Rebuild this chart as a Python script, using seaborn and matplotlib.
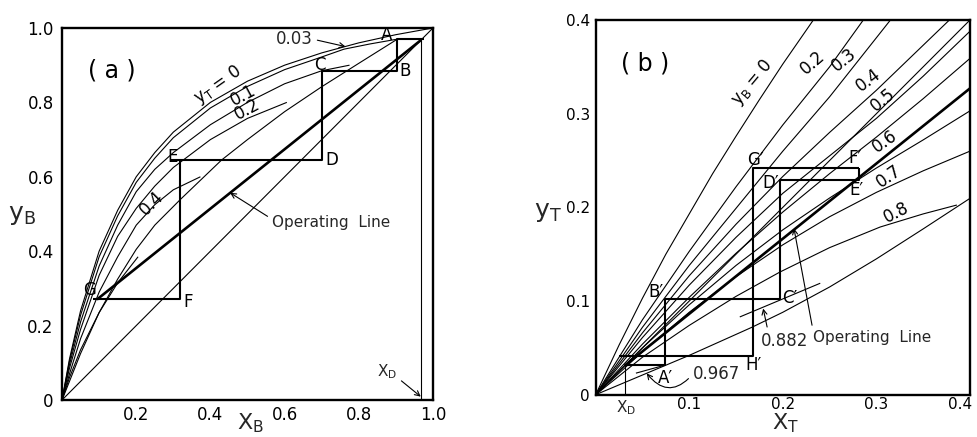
import matplotlib
matplotlib.use("Agg")
import matplotlib.pyplot as plt
from matplotlib.transforms import ScaledTranslation
import pandas as pd
import seaborn as sns

# ---------------- (a) benzene: y_B against x_B, one curve per y_T ----------------
A_YT0_X = [0, 0.02, 0.05, 0.1, 0.15, 0.2, 0.25, 0.3, 0.4, 0.5, 0.6, 0.7, 0.8, 0.9, 1.0]
A_YT0_Y = [0, 0.11, 0.24, 0.40, 0.51, 0.60, 0.665, 0.72, 0.80, 0.857, 0.90, 0.933, 0.96, 0.982, 1.0]

A_YT003_X = [0, 0.02, 0.05, 0.1, 0.15, 0.2, 0.25, 0.3, 0.4, 0.5, 0.6, 0.7, 0.76, 0.83, 0.904]
A_YT003_Y = [0, 0.104, 0.228, 0.385, 0.495, 0.585, 0.65, 0.705, 0.785, 0.843, 0.888, 0.922, 0.943, 0.957, 0.970]

A_YT01_X = [0, 0.02, 0.05, 0.1, 0.15, 0.2, 0.25, 0.3, 0.4, 0.5, 0.6, 0.7, 0.775]
A_YT01_Y = [0, 0.095, 0.21, 0.36, 0.47, 0.56, 0.62, 0.665, 0.74, 0.80, 0.85, 0.885, 0.90]

A_YT02_X = [0, 0.02, 0.05, 0.1, 0.15, 0.2, 0.25, 0.3, 0.4, 0.5, 0.606]
A_YT02_Y = [0, 0.085, 0.19, 0.335, 0.44, 0.515, 0.575, 0.625, 0.70, 0.757, 0.80]

A_YT04_X = [0, 0.02, 0.05, 0.1, 0.15, 0.2, 0.25, 0.3, 0.373]
A_YT04_Y = [0, 0.07, 0.165, 0.29, 0.385, 0.47, 0.525, 0.565, 0.60]

A_YT06_X = [0, 0.02, 0.05, 0.1, 0.15, 0.205]
A_YT06_Y = [0, 0.06, 0.135, 0.235, 0.315, 0.385]

A_LONG_X = [0, 0.05, 0.1, 0.15, 0.2, 0.25, 0.32, 0.43, 0.5, 0.6, 0.7, 0.8, 0.904]
A_LONG_Y = [0, 0.125, 0.235, 0.325, 0.405, 0.47, 0.54, 0.645, 0.70, 0.775, 0.842, 0.905, 0.970]

A_DIAG_X = [0.0, 1.0]
A_DIAG_Y = [0.0, 1.0]
A_OP_X = [0.094, 0.967]
A_OP_Y = [0.270, 0.967]
A_XD_X = [0.967, 0.967]
A_XD_Y = [0.0, 0.970]

A_STEP1_X = [0.975, 0.904, 0.904, 0.700, 0.700, 0.291]
A_STEP1_Y = [0.970, 0.970, 0.884, 0.884, 0.644, 0.644]
A_STEP2_X = [0.319, 0.319, 0.083]
A_STEP2_Y = [0.644, 0.2715, 0.2715]

A_XTICKS = [0.2, 0.4, 0.6, 0.8, 1.0]
A_XTICK_LABELS = ["0.2", "0.4", "0.6", "0.8", "1.0"]
A_YTICKS = [0.0, 0.2, 0.4, 0.6, 0.8, 1.0]
A_YTICK_LABELS = ["0", "0.2", "0.4", "0.6", "0.8", "1.0"]

# ---------------- (b) toluene: y_T against x_T, one curve per y_B ----------------
B_YB0_X = [0, 0.025, 0.05, 0.075, 0.1, 0.125, 0.15, 0.175, 0.2, 0.2326]
B_YB0_Y = [0, 0.053, 0.103, 0.150, 0.193, 0.236, 0.276, 0.315, 0.353, 0.40]

B_YB02_X = [0, 0.05, 0.1, 0.15, 0.2, 0.25, 0.286]
B_YB02_Y = [0, 0.08, 0.153, 0.222, 0.288, 0.350, 0.40]

B_YB03_X = [0, 0.05, 0.1, 0.15, 0.2, 0.25, 0.315]
B_YB03_Y = [0, 0.072, 0.138, 0.199, 0.26, 0.318, 0.40]

B_YB04_X = [0, 0.05, 0.1, 0.15, 0.2, 0.25, 0.3, 0.378]
B_YB04_Y = [0, 0.066, 0.127, 0.182, 0.233, 0.28, 0.325, 0.40]

B_YB05_X = [0, 0.05, 0.1, 0.15, 0.2, 0.25, 0.3, 0.35, 0.4]
B_YB05_Y = [0, 0.061, 0.117, 0.168, 0.215, 0.255, 0.295, 0.34, 0.388]

B_YB06_X = [0, 0.05, 0.1, 0.15, 0.2, 0.25, 0.3, 0.35, 0.4]
B_YB06_Y = [0, 0.054, 0.104, 0.151, 0.195, 0.236, 0.275, 0.316, 0.359]

B_YB07_X = [0, 0.05, 0.1, 0.15, 0.2, 0.25, 0.3, 0.35, 0.4]
B_YB07_Y = [0, 0.05, 0.096, 0.138, 0.176, 0.21, 0.242, 0.272, 0.303]

B_YB075_X = [0, 0.05, 0.1, 0.15, 0.2, 0.25, 0.3, 0.35, 0.4]
B_YB075_Y = [0, 0.046, 0.088, 0.126, 0.16, 0.19, 0.216, 0.239, 0.26]

B_YB08_X = [0, 0.05, 0.1, 0.15, 0.197, 0.25, 0.304, 0.35, 0.386]
B_YB08_Y = [0, 0.04, 0.074, 0.105, 0.131, 0.157, 0.179, 0.193, 0.2025]

B_YB09_X = [0, 0.1, 0.167, 0.2, 0.25, 0.3, 0.35, 0.4]
B_YB09_Y = [0, 0.042, 0.072, 0.088, 0.115, 0.145, 0.177, 0.2096]

B_YB0882_X = [0.154, 0.24]
B_YB0882_Y = [0.083, 0.119]
B_YB0967_X = [0.043, 0.072]
B_YB0967_Y = [0.023, 0.031]

B_DIAG_X = [0.0, 0.4]
B_DIAG_Y = [0.0, 0.4]
B_OP_X = [0.031, 0.4]
B_OP_Y = [0.031, 0.327]
B_XD_X = [0.0313, 0.0313]
B_XD_Y = [0.0, 0.0317]

B_STEP1_X = [0.0313, 0.0741, 0.0741, 0.197, 0.197, 0.2817, 0.2817]
B_STEP1_Y = [0.0317, 0.0317, 0.1018, 0.1018, 0.2295, 0.2295, 0.2416]
B_STEP2_X = [0.0253, 0.1685, 0.1685, 0.2817]
B_STEP2_Y = [0.0416, 0.0416, 0.2416, 0.2416]

B_XTICKS = [0.1, 0.2, 0.3, 0.4]
B_XTICK_LABELS = ["0.1", "0.2", "0.3", "0.4"]
B_YTICKS = [0.0, 0.1, 0.2, 0.3, 0.4]
B_YTICK_LABELS = ["0", "0.1", "0.2", "0.3", "0.4"]

sns.set_theme(style="white")
plt.rcParams["font.family"] = ["DejaVu Sans"]
plt.rcParams["mathtext.default"] = "regular"

fig = plt.figure(figsize=(9.77, 4.37), dpi=100)
fig.patch.set_facecolor("white")
ax_a = fig.add_axes([0.0635, 0.0847, 0.3797, 0.8513])
ax_b = fig.add_axes([0.6097, 0.0968, 0.3831, 0.8574])


def trace(ax, xs, ys, lw=0.8):
    frame = pd.DataFrame({"x": xs, "y": ys})
    sns.lineplot(data=frame, x="x", y="y", ax=ax, sort=False, estimator=None,
                 color="black", linewidth=lw, solid_joinstyle="round",
                 solid_capstyle="butt")


def frame_axes(ax, lim, xt, xtl, yt, ytl, xpad, ypad, size):
    ax.set_xlim(0, lim)
    ax.set_ylim(0, lim)
    ax.set_xticks(xt)
    ax.set_xticklabels(xtl)
    ax.set_yticks(yt)
    ax.set_yticklabels(ytl)
    ax.tick_params(direction="in", length=5, width=1.0, labelsize=size,
                   colors="black")
    ax.tick_params(axis="x", pad=xpad)
    ax.tick_params(axis="y", pad=ypad)
    for s in ax.spines.values():
        s.set_visible(True)
        s.set_linewidth(1.7)
        s.set_color("black")
    ax.set_facecolor("white")


def note(ax, x, y, s, size=12, rot=0):
    ax.text(x, y, s, ha="center", va="center", rotation=rot,
            rotation_mode="anchor", fontsize=size, color="black")


# ---- panel (a) ----
for xs, ys in [(A_YT0_X, A_YT0_Y), (A_YT003_X, A_YT003_Y), (A_YT01_X, A_YT01_Y),
               (A_YT02_X, A_YT02_Y), (A_YT04_X, A_YT04_Y), (A_YT06_X, A_YT06_Y),
               (A_LONG_X, A_LONG_Y), (A_DIAG_X, A_DIAG_Y), (A_XD_X, A_XD_Y)]:
    trace(ax_a, xs, ys, 0.8)
trace(ax_a, A_OP_X, A_OP_Y, 1.9)
trace(ax_a, A_STEP1_X, A_STEP1_Y, 1.5)
trace(ax_a, A_STEP2_X, A_STEP2_Y, 1.5)

frame_axes(ax_a, 1.0, A_XTICKS, A_XTICK_LABELS, A_YTICKS, A_YTICK_LABELS, 4, 6, 12)
ax_a.set_xlabel(r"$X_B$", fontsize=16)
ax_a.xaxis.set_label_coords(0.507, -0.032)
ax_a.set_ylabel(r"$y_B$", fontsize=18, rotation=0, ha="center", va="center")
ax_a.yaxis.set_label_coords(-0.108, 0.497)

note(ax_a, 0.133, 0.887, "( a )", 17)
note(ax_a, 0.42, 0.847, r"$y_T$ = 0", 12, 35)
note(ax_a, 0.487, 0.818, "0.1", 12, 28)
note(ax_a, 0.498, 0.782, "0.2", 12, 28)
note(ax_a, 0.242, 0.529, "0.4", 12, 45)
for lab, px, py in [("A", 0.876, 0.981), ("B", 0.925, 0.883), ("C", 0.696, 0.900),
                    ("D", 0.726, 0.645), ("E", 0.299, 0.654), ("F", 0.341, 0.264),
                    ("G", 0.074, 0.296)]:
    note(ax_a, px, py, lab, 12)

arrow = dict(arrowstyle="->", lw=0.8, color="black", shrinkA=1, shrinkB=0,
             mutation_scale=9)
ax_a.annotate("Operating  Line", xy=(0.453, 0.557), xytext=(0.566, 0.476),
              ha="left", va="center", fontsize=11,
              arrowprops=dict(arrow, relpos=(0.0, 0.75)))
ax_a.annotate("0.03", xy=(0.764, 0.950), xytext=(0.626, 0.970),
              ha="center", va="center", fontsize=12,
              arrowprops=dict(arrow, relpos=(1.0, 0.5)))
ax_a.annotate(r"$X_D$", xy=(0.967, 0.009), xytext=(0.876, 0.076),
              ha="center", va="center", fontsize=11,
              arrowprops=dict(arrow, relpos=(1.0, 0.2)))

# ---- panel (b) ----
for xs, ys in [(B_YB0_X, B_YB0_Y), (B_YB02_X, B_YB02_Y), (B_YB03_X, B_YB03_Y),
               (B_YB04_X, B_YB04_Y), (B_YB05_X, B_YB05_Y), (B_YB06_X, B_YB06_Y),
               (B_YB07_X, B_YB07_Y), (B_YB075_X, B_YB075_Y), (B_YB08_X, B_YB08_Y),
               (B_YB09_X, B_YB09_Y), (B_YB0882_X, B_YB0882_Y),
               (B_YB0967_X, B_YB0967_Y), (B_DIAG_X, B_DIAG_Y), (B_XD_X, B_XD_Y)]:
    trace(ax_b, xs, ys, 0.8)
trace(ax_b, B_OP_X, B_OP_Y, 1.9)
trace(ax_b, B_STEP1_X, B_STEP1_Y, 1.5)
trace(ax_b, B_STEP2_X, B_STEP2_Y, 1.5)

frame_axes(ax_b, 0.4, B_XTICKS, B_XTICK_LABELS, B_YTICKS, B_YTICK_LABELS, 2, 4, 11)
# keep the last x tick label inside the figure edge
last = ax_b.get_xticklabels()[-1]
last.set_transform(last.get_transform()
                   + ScaledTranslation(-7 / 72, 0, fig.dpi_scale_trans))
ax_b.set_xlabel(r"$X_T$", fontsize=16)
ax_b.xaxis.set_label_coords(0.506, -0.045)
ax_b.set_ylabel(r"$y_T$", fontsize=18, rotation=0, ha="center", va="center")
ax_b.yaxis.set_label_coords(-0.128, 0.488)

note(ax_b, 0.0527, 0.354, "( b )", 17)
note(ax_b, 0.168, 0.333, r"$y_B$ = 0", 12, 50)
note(ax_b, 0.232, 0.355, "0.2", 12, 41)
note(ax_b, 0.265, 0.357, "0.3", 12, 39)
note(ax_b, 0.291, 0.336, "0.4", 12, 37)
note(ax_b, 0.307, 0.315, "0.5", 12, 39)
note(ax_b, 0.309, 0.270, "0.6", 12, 35)
note(ax_b, 0.313, 0.233, "0.7", 12, 35)
note(ax_b, 0.321, 0.194, "0.8", 12, 27)
for lab, px, py in [("F\u2032", 0.277, 0.253), ("E\u2032", 0.279, 0.219),
                    ("G\u2032", 0.171, 0.251), ("D\u2032", 0.187, 0.226),
                    ("B\u2032", 0.0644, 0.110), ("C\u2032", 0.2076, 0.103),
                    ("H\u2032", 0.169, 0.0317), ("A\u2032", 0.075, 0.0175)]:
    note(ax_b, px, py, lab, 12)

ax_b.annotate("Operating  Line", xy=(0.2119, 0.1776), xytext=(0.2326, 0.0612),
              ha="left", va="center", fontsize=11,
              arrowprops=dict(arrow, relpos=(0.0, 0.85)))
ax_b.annotate("0.882", xy=(0.179, 0.092), xytext=(0.202, 0.0577),
              ha="center", va="center", fontsize=12,
              arrowprops=dict(arrow, relpos=(0.15, 1.0)))
ax_b.annotate("0.967", xy=(0.0545, 0.0228), xytext=(0.129, 0.022),
              ha="center", va="center", fontsize=12,
              arrowprops=dict(arrow, relpos=(0.0, 0.5),
                              connectionstyle="arc3,rad=-0.6"))
ax_b.text(0.032, -0.0135, r"$X_D$", ha="center", va="center", fontsize=11,
          clip_on=False)

fig.savefig("out.png", dpi=100, facecolor="white")
